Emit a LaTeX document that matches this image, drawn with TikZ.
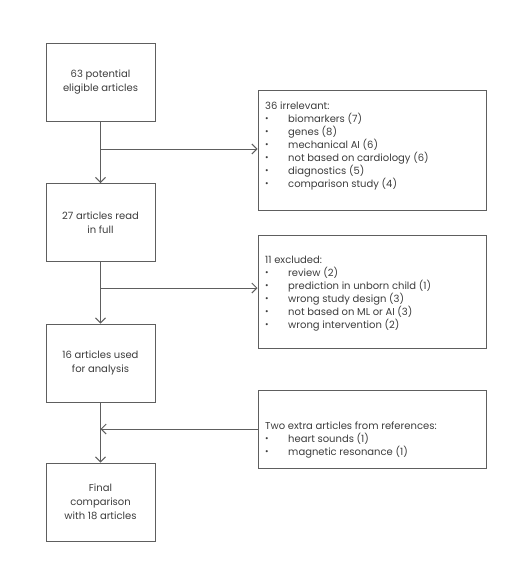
\documentclass[tikz,border=0pt]{standalone}
\usepackage{fontspec}
\setmainfont{Poppins}
\usetikzlibrary{arrows.meta}
\definecolor{txt}{HTML}{3C3C3C}
\definecolor{ln}{HTML}{5E5E5E}
\tikzset{
  leftbox/.style={draw=ln, line width=1pt, minimum width=109pt, minimum height=78pt, align=center, text=txt, font=\fontsize{10}{14}\selectfont, inner sep=0pt},
  rightbox/.style={draw=ln, line width=1pt, minimum width=228pt, inner sep=0pt},
  listtext/.style={anchor=base west, inner sep=0pt, text=txt, font=\fontsize{10}{12.7}\selectfont},
  conn/.style={draw=ln, line width=1pt},
  arr/.style={conn, -{Straight Barb[length=5pt,width=10pt]}}
}
\newcommand{\bl}{\raisebox{1pt}{\fontsize{8.5}{8.5}\selectfont\textbullet}}
\begin{document}
\begin{tikzpicture}[x=1pt,y=-1pt]
\useasboundingbox (0,0) rectangle (527,573);
% left column
\node[leftbox] (a) at (100.5,82) {63 potential\\eligible articles};
\node[leftbox] (b) at (100.5,222.5) {27 articles read\\in full};
\node[leftbox] (c) at (100.5,363) {16 articles used\\for analysis};
\node[leftbox] (d) at (100.5,502) {Final\\comparison\\with 18 articles};
% right column
\node[rightbox, minimum height=120pt] (r1) at (372,150) {};
\node[rightbox, minimum height=113pt] (r2) at (372,291.5) {};
\node[rightbox, minimum height=78pt] (r3) at (372,429) {};
\node[listtext] (t1) at (265,109) {\begin{tabular}[t]{@{}p{23pt}@{}l@{}}
\multicolumn{2}{@{}l@{}}{36 irrelevant:}\\
\bl & biomarkers (7)\\
\bl & genes (8)\\
\bl & mechanical AI (6)\\
\bl & not based on cardiology (6)\\
\bl & diagnostics (5)\\
\bl & comparison study (4)
\end{tabular}};
\node[listtext] (t2) at (265,263) {\begin{tabular}[t]{@{}p{23pt}@{}l@{}}
\multicolumn{2}{@{}l@{}}{11 excluded:}\\
\bl & review (2)\\
\bl & prediction in unborn child (1)\\
\bl & wrong study design (3)\\
\bl & not based on ML or AI (3)\\
\bl & wrong intervention (2)
\end{tabular}};
\node[listtext] (t3) at (265,429) {\begin{tabular}[t]{@{}p{23pt}@{}l@{}}
\multicolumn{2}{@{}l@{}}{Two extra articles from references:}\\
\bl & heart sounds (1)\\
\bl & magnetic resonance (1)
\end{tabular}};
% connectors
\coordinate (j1) at (a.south |- 0,149);
\coordinate (j2) at (b.south |- 0,288);
\coordinate (j3) at (c.south |- 0,429);
\draw[arr] (a.south) -- (b.north);
\draw[arr] (j1) -- (j1 -| r1.west);
\draw[arr] (b.south) -- (c.north);
\draw[arr] (j2) -- (j2 -| r2.west);
\draw[arr] (c.south) -- (d.north);
\draw[arr] (j3 -| r3.west) -- (j3);
\end{tikzpicture}
\end{document}
